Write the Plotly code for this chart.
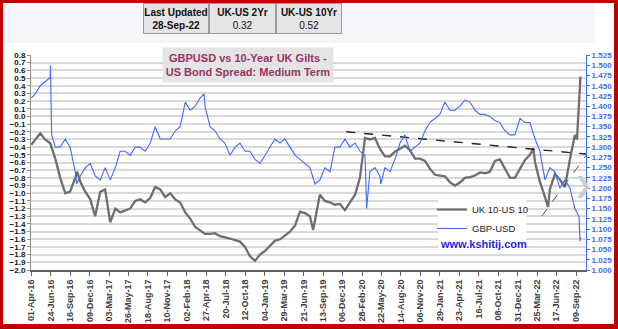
import pandas as pd
import plotly.graph_objects as go

# ---------------- data ----------------
tick_labels = ["01-Apr-16", "24-Jun-16", "16-Sep-16", "09-Dec-16", "03-Mar-17", "26-May-17",
               "18-Aug-17", "10-Nov-17", "02-Feb-18", "27-Apr-18", "20-Jul-18", "12-Oct-18",
               "04-Jan-19", "29-Mar-19", "21-Jun-19", "13-Sep-19", "06-Dec-19", "28-Feb-20",
               "22-May-20", "14-Aug-20", "06-Nov-20", "29-Jan-21", "23-Apr-21", "16-Jul-21",
               "08-Oct-21", "31-Dec-21", "25-Mar-22", "17-Jun-22", "09-Sep-22"]

dates = [
    "2016-04-01", "2016-04-18", "2016-05-10", "2016-05-31", "2016-06-22", "2016-07-14", "2016-08-04", "2016-08-26", "2016-09-16", "2016-10-08",
    "2016-10-30", "2016-11-20", "2016-12-12", "2017-01-02", "2017-01-24", "2017-02-14", "2017-03-08", "2017-03-30", "2017-04-20", "2017-05-12",
    "2017-06-02", "2017-06-24", "2017-07-15", "2017-08-06", "2017-08-28", "2017-09-18", "2017-10-10", "2017-10-31", "2017-11-22", "2017-12-14",
    "2018-01-04", "2018-01-26", "2018-02-16", "2018-03-10", "2018-03-31", "2018-04-21", "2018-05-13", "2018-06-03", "2018-06-25", "2018-07-16",
    "2018-08-07", "2018-08-29", "2018-09-19", "2018-10-11", "2018-11-01", "2018-11-23", "2018-12-15", "2019-01-05", "2019-01-27", "2019-02-17",
    "2019-03-11", "2019-04-01", "2019-04-23", "2019-05-15", "2019-06-05", "2019-06-27", "2019-07-18", "2019-08-09", "2019-08-30", "2019-09-21",
    "2019-10-13", "2019-11-03", "2019-11-25", "2019-12-16", "2020-01-07", "2020-01-29", "2020-02-19", "2020-03-12", "2020-04-02", "2020-04-24",
    "2020-05-15", "2020-06-06", "2020-06-28", "2020-07-19", "2020-08-10", "2020-08-31", "2020-09-22", "2020-10-14", "2020-11-04", "2020-11-26",
    "2020-12-17", "2021-01-08", "2021-01-29", "2021-02-20", "2021-03-14", "2021-04-04", "2021-04-26", "2021-05-17", "2021-06-08", "2021-06-30",
    "2021-07-21", "2021-08-12", "2021-09-02", "2021-09-24", "2021-10-15", "2021-11-06", "2021-11-28", "2021-12-19", "2022-01-10", "2022-01-31",
    "2022-02-22", "2022-03-16", "2022-04-06", "2022-04-28", "2022-05-19", "2022-06-10", "2022-07-01", "2022-07-23", "2022-08-14", "2022-09-04",
    "2022-09-26",
]

gbpusd = [
    1.42, 1.43, 1.45, 1.46, 1.47, 1.30, 1.30, 1.32, 1.30, 1.24,
    1.23, 1.25, 1.26, 1.23, 1.22, 1.25, 1.22, 1.25, 1.29, 1.29,
    1.28, 1.30, 1.30, 1.29, 1.31, 1.35, 1.32, 1.32, 1.32, 1.34,
    1.35, 1.41, 1.39, 1.40, 1.42, 1.40, 1.35, 1.34, 1.32, 1.31,
    1.28, 1.30, 1.31, 1.29, 1.29, 1.27, 1.26, 1.28, 1.30, 1.32,
    1.31, 1.32, 1.30, 1.28, 1.27, 1.26, 1.25, 1.21, 1.22, 1.25,
    1.24, 1.30, 1.30, 1.32, 1.30, 1.31, 1.29, 1.28, 1.24, 1.25,
    1.23, 1.25, 1.24, 1.27, 1.31, 1.33, 1.29, 1.30, 1.31, 1.34,
    1.36, 1.37, 1.38, 1.41, 1.39, 1.39, 1.40, 1.415, 1.41, 1.39,
    1.38, 1.38, 1.375, 1.365, 1.36, 1.34, 1.33, 1.33, 1.37, 1.36,
    1.36, 1.32, 1.29, 1.22, 1.25, 1.24, 1.20, 1.22, 1.20, 1.15,
    1.07,
]

spread = [
    -0.37, -0.30, -0.22, -0.30, -0.35, -0.55, -0.80, -1.00, -0.98, -0.80,
    -0.85, -0.98, -1.08, -1.30, -0.98, -0.95, -1.38, -1.20, -1.25, -1.22,
    -1.20, -1.10, -1.08, -1.12, -1.06, -0.92, -0.95, -1.05, -1.00, -1.08,
    -1.12, -1.25, -1.33, -1.44, -1.48, -1.53, -1.53, -1.52, -1.56, -1.57,
    -1.59, -1.61, -1.63, -1.70, -1.82, -1.88, -1.80, -1.75, -1.68, -1.62,
    -1.60, -1.55, -1.50, -1.42, -1.24, -1.26, -1.30, -1.35, -1.02, -1.10,
    -1.12, -1.15, -1.14, -1.22, -1.12, -1.02, -0.80, -0.28, -0.30, -0.28,
    -0.42, -0.52, -0.52, -0.46, -0.42, -0.38, -0.44, -0.55, -0.55, -0.58,
    -0.68, -0.76, -0.77, -0.78, -0.86, -0.90, -0.86, -0.80, -0.79, -0.77,
    -0.73, -0.74, -0.72, -0.58, -0.56, -0.68, -0.80, -0.80, -0.68, -0.57,
    -0.50, -0.60, -0.85, -1.05, -0.95, -0.75, -0.82, -0.92, -0.55, -0.24,
    0.45,
]

# extra (spike) observations
gbpusd_extra_dates = ["2016-06-23", "2016-06-28", "2016-10-14", "2018-04-17", "2020-03-19",
                      "2020-05-19", "2022-09-22", "2022-09-28"]
gbpusd_extra = [1.50, 1.33, 1.21, 1.43, 1.15, 1.21, 1.13, 1.08]
spread_extra_dates = ["2016-10-16", "2019-08-01", "2020-03-03", "2022-03-09", "2022-05-11",
                      "2022-09-13", "2022-09-22", "2022-09-28"]
spread_extra = [-0.72, -1.48, -0.45, -0.42, -1.18, -0.30, 0.30, 0.52]

# trend lines (left axis)
trend1_dates = ["2019-12-22", "2022-10-22"]
trend1_vals = [-0.20, -0.49]
trend2_dates = ["2022-04-14", "2022-10-22"]
trend2_vals = [-1.30, -0.51]

table_headers = ["Last Updated", "UK-US 2Yr", "UK-US 10Yr"]
table_values = ["28-Sep-22", "0.32", "0.52"]

# ---------------- build ----------------
def merged(d1, v1, d2, v2):
    s = pd.Series(list(v1) + list(v2), index=pd.to_datetime(list(d1) + list(d2)))
    return s.sort_index()

s_gbp = merged(dates, gbpusd, gbpusd_extra_dates, gbpusd_extra)
s_spr = merged(dates, spread, spread_extra_dates, spread_extra)

BLUE = "#3D6CF5"
GRAY = "#6E6E6E"
FONT = "Liberation Sans"

W, H = 618, 329
PL, PR, PT, PB = 31, 586, 55, 270


def px(x):
    return (x - PL) / (PR - PL)


def py(y):
    return (PB - y) / (PB - PT)


fig = go.Figure()
fig.add_trace(go.Scatter(x=s_spr.index, y=s_spr.values, name="UK 10-US 10", mode="lines",
                         line=dict(color=GRAY, width=2.3), yaxis="y"))
fig.add_trace(go.Scatter(x=s_gbp.index, y=s_gbp.values, name="GBP-USD", mode="lines",
                         line=dict(color=BLUE, width=1.1), yaxis="y2"))
fig.add_trace(go.Scatter(x=pd.to_datetime(trend1_dates), y=trend1_vals, mode="lines", showlegend=False,
                         line=dict(color="#222222", width=1.4, dash="dash"), yaxis="y"))
fig.add_trace(go.Scatter(x=pd.to_datetime(trend2_dates), y=trend2_vals, mode="lines", showlegend=False,
                         line=dict(color="#555555", width=1, dash="dash"), yaxis="y"))

tickvals = pd.to_datetime(tick_labels, format="%d-%b-%y")

shapes = []
# top band
shapes.append(dict(type="rect", xref="paper", yref="paper", x0=px(3), x1=px(595), y0=py(43), y1=py(3),
                   fillcolor="#F4F6F9", line=dict(width=0), layer="below"))
# white box behind legend / url
shapes.append(dict(type="rect", xref="paper", yref="paper", x0=px(438), x1=px(526), y0=py(252), y1=py(199),
                   fillcolor="white", line=dict(width=0), layer="above"))
# red frame
RED = "#C00000"
for (x0, x1, y0, y1) in [(0, 3, 0, H), (614, W, 0, H), (0, W, 0, 3), (0, W, 324, H)]:
    shapes.append(dict(type="rect", xref="paper", yref="paper", x0=px(x0), x1=px(x1), y0=py(y1), y1=py(y0),
                       fillcolor=RED, line=dict(width=0), layer="above"))

annotations = []
# table
cell_edges = [143, 209, 276, 342]
for i, (hd, val) in enumerate(zip(table_headers, table_values)):
    cx = (cell_edges[i] + cell_edges[i + 1]) / 2
    vtxt = f"<b>{val}</b>" if i == 0 else val
    annotations.append(dict(xref="paper", yref="paper", x=px(cx), y=py(18.5), xanchor="center", yanchor="middle",
                            text=f"<b>{hd}</b><br>{vtxt}", showarrow=False,
                            font=dict(family=FONT, size=10, color="#111111"),
                            bgcolor="#E4E4E4", bordercolor="#9A9A9A", borderwidth=1, borderpad=0,
                            width=cell_edges[i + 1] - cell_edges[i] - 2, height=29))
# title box
annotations.append(dict(xref="paper", yref="paper", x=px(248), y=py(64.5), xanchor="center", yanchor="middle",
                        text="<b>GBPUSD vs 10-Year UK Gilts -</b><br><b>US Bond Spread: Medium Term</b>",
                        showarrow=False, font=dict(family=FONT, size=11, color="#993366"),
                        bgcolor="#E4E4E4", borderpad=0, width=170, height=34))
# url
annotations.append(dict(xref="paper", yref="paper", x=px(483), y=py(244), xanchor="center", yanchor="middle",
                        text="<b>www.kshitij.com</b>", showarrow=False,
                        font=dict(family=FONT, size=11, color="#1F1FEF")))
# chevron overlay
annotations.append(dict(xref="paper", yref="paper", x=px(583), y=py(186), xanchor="center", yanchor="middle",
                        text="\u276F", showarrow=False, font=dict(family="DejaVu Sans", size=22, color="#CCCCCC")))

fig.update_layout(
    width=W, height=H,
    margin=dict(l=PL, r=W - PR, t=PT, b=H - PB, pad=0, autoexpand=False),
    paper_bgcolor="white", plot_bgcolor="white",
    font=dict(family=FONT),
    showlegend=True,
    legend=dict(x=px(432), y=py(195), xanchor="left", yanchor="top", bgcolor="rgba(0,0,0,0)",
                font=dict(family=FONT, size=9.5, color="#222222"), itemwidth=30, tracegroupgap=0),
    xaxis=dict(type="date", range=["2016-03-31", "2022-10-22"], tickmode="array",
               tickvals=tickvals, ticktext=tick_labels, tickangle=-90, automargin=False,
               tickfont=dict(family=FONT, size=9, color="#404040", weight="bold"),
               showgrid=False, showline=True, linecolor="#606060", linewidth=2,
               ticks="outside", ticklen=4, tickcolor="#606060", zeroline=False),
    yaxis=dict(range=[-2.0, 0.8], tickmode="linear", tick0=-2.0, dtick=0.1, tickformat=".1f",
               automargin=False,
               tickfont=dict(family=FONT, size=8, color="#111111", weight="bold"),
               showgrid=True, gridcolor="#D9D9D9", gridwidth=1.5,
               showline=True, linecolor="#909090", linewidth=1, ticks="outside", ticklen=3,
               tickcolor="#909090", zeroline=False),
    yaxis2=dict(range=[1.0, 1.525], tickmode="linear", tick0=1.0, dtick=0.025, tickformat=".3f",
                overlaying="y", side="right", showgrid=False, zeroline=False, automargin=False,
                tickfont=dict(family=FONT, size=8, color=BLUE, weight="bold"),
                showline=True, linecolor=BLUE, linewidth=1, ticks="outside", ticklen=3, tickcolor=BLUE),
    shapes=shapes,
    annotations=annotations,
)

fig.write_html("out.html")
